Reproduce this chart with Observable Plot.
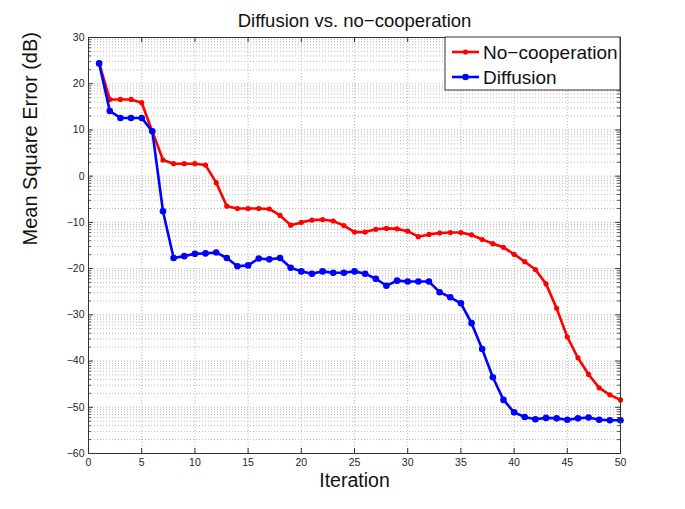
<!DOCTYPE html>
<html><head><meta charset="utf-8">
<script src="https://cdn.jsdelivr.net/npm/d3@7"></script>
<script src="https://cdn.jsdelivr.net/npm/@observablehq/plot@0.6"></script>
<style>body{margin:0;background:#fff}</style>
</head><body><div id="chart"></div>
<script>
const iterations = [1,2,3,4,5,6,7,8,9,10,11,12,13,14,15,16,17,18,19,20,21,22,23,24,25,26,27,28,29,30,31,32,33,34,35,36,37,38,39,40,41,42,43,44,45,46,47,48,49,50];
const noCooperation = [24.4,16.6,16.6,16.6,15.9,9.7,3.5,2.7,2.7,2.7,2.4,-1.4,-6.5,-7.0,-7.0,-7.0,-7.1,-8.5,-10.6,-10.0,-9.5,-9.4,-9.7,-10.7,-12.1,-12.1,-11.5,-11.3,-11.4,-11.9,-13.1,-12.6,-12.3,-12.2,-12.2,-12.7,-13.7,-14.6,-15.4,-16.9,-18.5,-20.2,-23.3,-28.6,-34.8,-39.3,-42.9,-45.8,-47.3,-48.4];
const diffusion = [24.4,14.1,12.6,12.6,12.6,9.7,-7.6,-17.7,-17.3,-16.8,-16.7,-16.5,-17.7,-19.5,-19.3,-17.8,-18.0,-17.7,-19.8,-20.6,-21.1,-20.6,-20.9,-20.9,-20.6,-21.1,-22.2,-23.7,-22.6,-22.8,-22.8,-22.8,-25.1,-26.2,-27.5,-31.8,-37.4,-43.5,-48.4,-51.1,-52.1,-52.6,-52.3,-52.4,-52.7,-52.4,-52.2,-52.7,-52.8,-52.8];
const xTicks = [0,5,10,15,20,25,30,35,40,45,50];
const yTicks = [-60,-50,-40,-30,-20,-10,0,10,20,30];
const seriesNames = ["No\u2212cooperation","Diffusion"];
const seriesColors = ["#ff0000","#0000ff"];

const noCoopData = iterations.map((it,i)=>({it, v:noCooperation[i]}));
const diffData = iterations.map((it,i)=>({it, v:diffusion[i]}));
// minor grid (log-style within each decade, as in the reference)
const minorY = [];
for (const b of yTicks.slice(0,-1)) for (let k=2;k<=9;k++) minorY.push(b + 10*Math.log10(k));

const X0=0,X1=50,Y0=-60,Y1=30;
const mT=37,mB=56,mL=88,mR=65,W=685,H=509;
const pxX=(X1-X0)/(W-mL-mR), pxY=(Y1-Y0)/(H-mT-mB);
const fmt = d => d<0 ? "\u2212"+Math.abs(d) : String(d);
const grid = {stroke:"#a8a8a8", strokeWidth:0.8, strokeDasharray:"1,2"};
const axisCol = "#333";

const plot = Plot.plot({
  width:W, height:H, marginTop:mT, marginBottom:mB, marginLeft:mL, marginRight:mR,
  x:{domain:[X0,X1], axis:null},
  y:{domain:[Y0,Y1], axis:null},
  style:{fontFamily:"'Liberation Sans', Arial, sans-serif", background:"#fff", overflow:"visible"},
  marks:[
    Plot.ruleY(minorY, {...grid}),
    Plot.ruleY(yTicks.slice(1,-1), {...grid}),
    Plot.ruleX(xTicks.slice(1,-1), {...grid}),
    Plot.line(noCoopData, {x:"it", y:"v", stroke:seriesColors[0], strokeWidth:2.6}),
    Plot.dot(noCoopData, {x:"it", y:"v", fill:seriesColors[0], r:2.6}),
    Plot.line(diffData, {x:"it", y:"v", stroke:seriesColors[1], strokeWidth:2.6}),
    Plot.dot(diffData, {x:"it", y:"v", fill:seriesColors[1], r:3.3}),
    // inward ticks
    Plot.ruleX(xTicks, {y1:Y0, y2:Y0+5*pxY, stroke:axisCol}),
    Plot.ruleX(xTicks, {y1:Y1, y2:Y1-5*pxY, stroke:axisCol}),
    Plot.ruleY(yTicks, {x1:X0, x2:X0+5*pxX, stroke:axisCol}),
    Plot.ruleY(yTicks, {x1:X1, x2:X1-5*pxX, stroke:axisCol}),
    Plot.ruleY(minorY, {x1:X0, x2:X0+3*pxX, stroke:axisCol, strokeWidth:0.8}),
    Plot.ruleY(minorY, {x1:X1, x2:X1-3*pxX, stroke:axisCol, strokeWidth:0.8}),
    Plot.frame({stroke:axisCol, strokeWidth:1}),
    // tick labels
    Plot.text(xTicks, {x:d=>d, y:Y0, dy:9, text:fmt, fontSize:10.5, fill:"#262626"}),
    Plot.text(yTicks, {x:X0, y:d=>d, dx:-4, textAnchor:"end", text:fmt, fontSize:10.5, fill:"#262626"}),
    // axis labels + title
    Plot.text(["Iteration"], {frameAnchor:"bottom", lineAnchor:"middle", dy:27, fontSize:19.5, fill:"#111"}),
    Plot.text(["Mean Square Error (dB)"], {frameAnchor:"left", lineAnchor:"middle", dx:-58, rotate:-90, fontSize:20, fill:"#111"}),
    Plot.text(["Diffusion vs. no\u2212cooperation"], {frameAnchor:"top", lineAnchor:"middle", dy:-16, fontSize:18.5, fill:"#111"})
  ]
});
document.getElementById("chart").append(plot);

// legend in the top-right corner of the axes
const svg = d3.select(plot);
const lx0 = 445, ly0 = mT, lx1 = W-mR, ly1 = 90;
const lg = svg.append("g").attr("font-family","'Liberation Sans', Arial, sans-serif").attr("text-anchor","start");
lg.append("rect").attr("x",lx0).attr("y",ly0).attr("width",lx1-lx0).attr("height",ly1-ly0)
  .attr("fill","#fff").attr("stroke",axisCol).attr("stroke-width",1);
seriesNames.forEach((name,i)=>{
  const cy = 52 + i*25;
  lg.append("line").attr("x1",452).attr("x2",479).attr("y1",cy).attr("y2",cy)
    .attr("stroke",seriesColors[i]).attr("stroke-width",2.6);
  lg.append("circle").attr("cx",465.5).attr("cy",cy).attr("r",i?3.3:2.6).attr("fill",seriesColors[i]);
  lg.append("text").attr("x",483).attr("y",cy).attr("dy","0.35em").attr("font-size",19)
    .attr("text-anchor","start").attr("fill","#111").text(name);
});
</script>
</body></html>
